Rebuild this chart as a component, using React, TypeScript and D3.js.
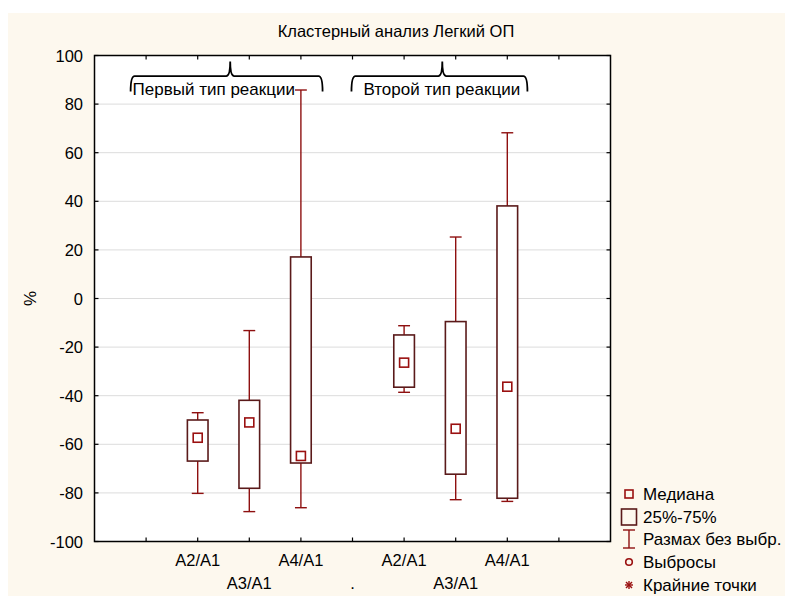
import React from "react";
import * as d3 from "d3";

// Slot labels along the x axis (slots 1..9); empty slots at the ends
const tickLabels = ["", "A2/A1", "A3/A1", "A4/A1", ".", "A2/A1", "A3/A1", "A4/A1", ""];
// Slot index of each box
const boxSlots = [2, 3, 4, 6, 7, 8];
// Box statistics, %
const medians = [-57.3, -51.0, -64.8, -26.4, -53.6, -36.3];
const q25 = [-66.9, -78.1, -67.7, -36.5, -72.3, -82.2];
const q75 = [-50.0, -41.9, 17.1, -15.0, -9.5, 38.1];
const whiskerLow = [-80.2, -87.7, -86.1, -38.6, -82.8, -83.5];
const whiskerHigh = [-47.0, -13.2, 85.8, -11.2, 25.3, 68.2];

const yTicks = [100, 80, 60, 40, 20, 0, -20, -40, -60, -80, -100];

// Group braces above the boxes: start slot, end slot, centre slot, label
const groupNames = ["Первый тип реакции", "Второй тип реакции"];
const groupStart = [0.7, 4.98];
const groupEnd = [4.42, 8.39];
const groupMid = [2.63, 6.74];

const legendLabels = ["Медиана", "25%-75%", "Размах без выбр.", "Выбросы", "Крайние точки"];

const W = 785;
const H = 596;
const FONT = "'Liberation Sans', Arial, sans-serif";
const BOX_STROKE = "#5a1a1a";
const WHISKER = "#8e1010";
const MEDIAN = "#9a1010";

export default function App() {
  const x = d3.scaleLinear().domain([0, 10]).range([94.5, 610.5]);
  const y = d3.scaleLinear().domain([-100, 100]).range([541.5, 55.5]);
  const [x0, x1] = x.range();
  const [y0, y1] = y.range();
  const halfBox = 0.2;
  const halfCap = 0.115;
  const slots = d3.range(1, 10);

  const bracePath = (a: number, b: number, m: number) => {
    const xa = x(a), xb = x(b), xm = x(m);
    const yl = y(91.5), ye = y(85.2), ys = y(97.5);
    return `M${xa},${ye} Q${xa},${yl} ${xa + 4},${yl} L${xm - 4},${yl} Q${xm},${yl} ${xm},${ys} Q${xm},${yl} ${xm + 4},${yl} L${xb - 4},${yl} Q${xb},${yl} ${xb},${ye}`;
  };

  const legendX = 629;
  const legendRows = [494, 517, 539, 562, 585];

  return (
    <svg
      width={W}
      height={H}
      style={{ position: "absolute", left: 0, top: 0, display: "block" }}
      fontFamily={FONT}
    >
      <rect x={0} y={0} width={W} height={H} fill="#ffffff" />
      <rect x={8} y={13} width={W - 8} height={H - 13} fill="#fdf8ee" />

      <text x={396} y={37} textAnchor="middle" fontSize={16.5} fill="#000">
        Кластерный анализ Легкий ОП
      </text>

      {/* plot area */}
      <rect x={x0} y={y1} width={x1 - x0} height={y0 - y1} fill="#ffffff" />
      {yTicks.slice(1, -1).map((t) => (
        <line key={"g" + t} x1={x0} x2={x1} y1={y(t)} y2={y(t)} stroke="#dcdcdc" strokeWidth={1} />
      ))}

      {/* ticks, all pointing inward */}
      {yTicks.map((t) => (
        <g key={"yt" + t}>
          <line x1={x0} x2={x0 + 4} y1={y(t)} y2={y(t)} stroke="#000" strokeWidth={1.2} />
          <line x1={x1 - 4} x2={x1} y1={y(t)} y2={y(t)} stroke="#000" strokeWidth={1.2} />
          <text x={83} y={y(t) + 6} textAnchor="end" fontSize={16.5} fill="#000">
            {t}
          </text>
        </g>
      ))}
      {slots.map((s) => (
        <g key={"xt" + s}>
          <line x1={x(s)} x2={x(s)} y1={y0} y2={y0 - 4} stroke="#000" strokeWidth={1.2} />
          <line x1={x(s)} x2={x(s)} y1={y1} y2={y1 + 4} stroke="#000" strokeWidth={1.2} />
          <text
            x={x(s)}
            y={s % 2 === 0 ? 566 : 589}
            textAnchor="middle"
            fontSize={16.5}
            fill="#000"
          >
            {tickLabels[s - 1]}
          </text>
        </g>
      ))}

      <text
        transform={`translate(36,${y(0)}) rotate(-90)`}
        textAnchor="middle"
        fontSize={17}
        fill="#000"
      >
        %
      </text>

      {/* boxes */}
      {boxSlots.map((s, i) => {
        const cx = x(s);
        const bx0 = x(s - halfBox);
        const bx1 = x(s + halfBox);
        const cw = x(s + halfCap) - cx;
        return (
          <g key={"b" + i}>
            <line x1={cx} x2={cx} y1={y(whiskerHigh[i])} y2={y(q75[i])} stroke={WHISKER} strokeWidth={1.4} />
            <line x1={cx} x2={cx} y1={y(q25[i])} y2={y(whiskerLow[i])} stroke={WHISKER} strokeWidth={1.4} />
            <line x1={cx - cw} x2={cx + cw} y1={y(whiskerHigh[i])} y2={y(whiskerHigh[i])} stroke={WHISKER} strokeWidth={1.4} />
            <line x1={cx - cw} x2={cx + cw} y1={y(whiskerLow[i])} y2={y(whiskerLow[i])} stroke={WHISKER} strokeWidth={1.4} />
            <rect
              x={bx0}
              y={y(q75[i])}
              width={bx1 - bx0}
              height={y(q25[i]) - y(q75[i])}
              fill="#ffffff"
              stroke={BOX_STROKE}
              strokeWidth={1.6}
            />
            <rect
              x={cx - 4.5}
              y={y(medians[i]) - 4.5}
              width={9}
              height={9}
              fill="#ffffff"
              stroke={MEDIAN}
              strokeWidth={1.6}
            />
          </g>
        );
      })}

      {/* group braces */}
      {groupNames.map((g, i) => (
        <g key={"grp" + i}>
          <path
            d={bracePath(groupStart[i], groupEnd[i], groupMid[i])}
            fill="none"
            stroke="#000"
            strokeWidth={1.8}
          />
          <text x={x(groupStart[i]) + (i === 0 ? 2 : 12)} y={95} fontSize={17} fill="#000">
            {g}
          </text>
        </g>
      ))}

      {/* frame */}
      <rect x={x0} y={y1} width={x1 - x0} height={y0 - y1} fill="none" stroke="#000" strokeWidth={1.5} />

      {/* legend */}
      <g>
        <rect x={legendX - 4} y={legendRows[0] - 4} width={8} height={8} fill="none" stroke={MEDIAN} strokeWidth={1.6} />
        <rect x={legendX - 7.5} y={legendRows[1] - 8} width={15} height={16} fill="none" stroke={BOX_STROKE} strokeWidth={1.6} />
        <line x1={legendX} x2={legendX} y1={legendRows[2] - 9} y2={legendRows[2] + 9} stroke={WHISKER} strokeWidth={1.4} />
        <line x1={legendX - 6} x2={legendX + 6} y1={legendRows[2] - 9} y2={legendRows[2] - 9} stroke={WHISKER} strokeWidth={1.4} />
        <line x1={legendX - 6} x2={legendX + 6} y1={legendRows[2] + 9} y2={legendRows[2] + 9} stroke={WHISKER} strokeWidth={1.4} />
        <circle cx={legendX} cy={legendRows[3]} r={3.3} fill="none" stroke={MEDIAN} strokeWidth={1.6} />
        <g stroke={MEDIAN} strokeWidth={1.4}>
          <line x1={legendX - 4} x2={legendX + 4} y1={legendRows[4]} y2={legendRows[4]} />
          <line x1={legendX} x2={legendX} y1={legendRows[4] - 4} y2={legendRows[4] + 4} />
          <line x1={legendX - 3} x2={legendX + 3} y1={legendRows[4] - 3} y2={legendRows[4] + 3} />
          <line x1={legendX - 3} x2={legendX + 3} y1={legendRows[4] + 3} y2={legendRows[4] - 3} />
        </g>
        {legendLabels.map((l, i) => (
          <text key={"lg" + i} x={643} y={legendRows[i] + 6} fontSize={17} fill="#000">
            {l}
          </text>
        ))}
      </g>
    </svg>
  );
}
